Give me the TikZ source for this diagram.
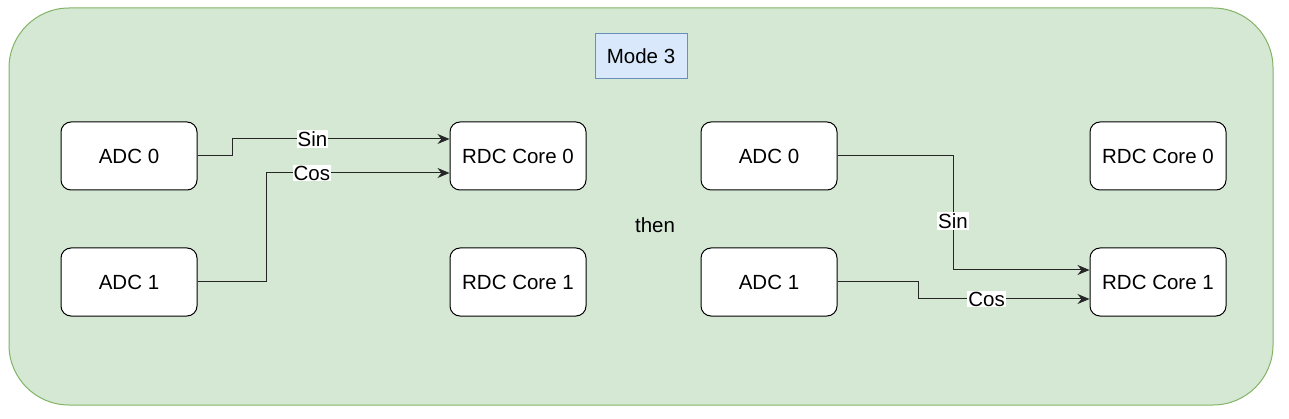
\documentclass[tikz,border=0pt]{standalone}
\usepackage{fontspec}
\setmainfont{Liberation Sans}
\usetikzlibrary{arrows.meta}
\definecolor{grfill}{HTML}{D5E8D4}
\definecolor{grline}{HTML}{82B366}
\definecolor{blfill}{HTML}{DAE8FC}
\definecolor{blline}{HTML}{6C8EBF}
\tikzset{
  box/.style={draw=black, fill=white, rounded corners=10pt, minimum width=136pt, minimum height=68pt, font=\fontsize{20.5}{24}\selectfont, line width=1pt},
  conn/.style={draw=black!85, line width=1pt, -{Stealth[length=12pt,width=10pt]}},
  lbl/.style={fill=white, inner sep=1pt, font=\fontsize{20.5}{24}\selectfont}
}
\begin{document}
\begin{tikzpicture}[x=1pt,y=-1pt]
\useasboundingbox (0,0) rectangle (1289,419);
\fill[grfill, draw=grline, line width=1pt, rounded corners=60pt] (9,8) rectangle (1273,405);
\node[draw=blline, fill=blfill, line width=1pt, minimum width=92pt, minimum height=45pt, font=\fontsize{20.5}{24}\selectfont] (mode) at (641,56.5) {Mode 3};
\node[font=\fontsize{20.5}{24}\selectfont] (then) at (655,225) {then};
% left
\node[box] (la0) at (129,156) {ADC 0};
\node[box] (la1) at (129,282) {ADC 1};
\node[box] (lr0) at (518,156) {RDC Core 0};
\node[box] (lr1) at (518,282) {RDC Core 1};
% right
\node[box] (ra0) at (769,156) {ADC 0};
\node[box] (ra1) at (769,282) {ADC 1};
\node[box] (rr0) at (1158,156) {RDC Core 0};
\node[box] (rr1) at (1158,282) {RDC Core 1};
% connectors
\draw[conn] (la0.east) -- (232,156) -- (232,139) -- node[lbl, pos=0.37] {Sin} (lr0.west |- 0,139);
\draw[conn] (la1.east) -- (266,282) -- (266,173) -- node[lbl, pos=0.25] {Cos} (lr0.west |- 0,173);
\draw[conn] (ra0.east) -- (953,156) -- node[lbl, pos=0.57] {Sin} (953,270) -- (rr1.west |- 0,270);
\draw[conn] (ra1.east) -- (918,282) -- (918,299) -- node[lbl, pos=0.40] {Cos} (rr1.west |- 0,299);
\end{tikzpicture}
\end{document}
